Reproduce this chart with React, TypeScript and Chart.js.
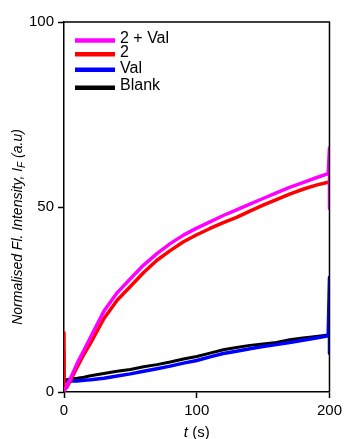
import React, { useEffect, useRef } from "react";
import { Chart, registerables } from "chart.js";

Chart.register(...registerables);

// ---- data ----
const timeSec = [0, 2, 5, 10, 15, 20, 30, 40, 50, 60, 70, 80, 90, 100, 110, 120, 130, 140, 150, 160, 170, 180, 190, 199];
const twoPlusVal = [0.3, 1.5, 3.8, 7.8, 11.3, 14.8, 21.8, 26.8, 30.6, 34.3, 37.4, 40.1, 42.4, 44.3, 46.0, 47.7, 49.2, 50.8, 52.3, 53.8, 55.3, 56.6, 57.9, 59.0];
const two = [0.5, 1.2, 3.2, 6.8, 10.2, 13.2, 19.8, 24.8, 28.5, 32.3, 35.6, 38.2, 40.6, 42.5, 44.2, 45.8, 47.2, 48.9, 50.5, 52.0, 53.5, 54.8, 55.9, 56.7];
const val = [2.8, 2.9, 3.0, 3.0, 3.2, 3.3, 3.7, 4.3, 4.9, 5.6, 6.3, 7.0, 7.8, 8.5, 9.5, 10.4, 11.0, 11.7, 12.3, 12.8, 13.4, 14.0, 14.6, 15.2];
const blank = [3.2, 3.3, 3.5, 3.7, 4.0, 4.4, 5.0, 5.6, 6.1, 6.8, 7.4, 8.1, 8.9, 9.6, 10.5, 11.4, 12.0, 12.6, 13.0, 13.4, 14.1, 14.6, 15.0, 15.4];
// injection spikes at the start / end of the record
const twoStartSpike = [16];
const blankStartSpike = [11];
const twoPlusValEndSpike = [66, 49.6];
const valEndSpike = [31, 10.4];
const spikeStartTime = 0;
const spikeEndTime = 200;

const seriesLabels = ["2 + Val", "2", "Val", "Blank"];
const seriesColors = ["#ff00ff", "#ff0000", "#0000ff", "#000000"];
const xTicks = [0, 100, 200];
const yTicks = [0, 50, 100];

const pts = (ys: number[]) => ys.map((y, i) => ({ x: timeSec[i], y }));
const spike = (t: number, ys: number[]) => ys.map((y) => ({ x: t, y }));

const FONT = "'Liberation Sans', Arial, sans-serif";

export default function App() {
  const ref = useRef<HTMLCanvasElement>(null);
  useEffect(() => {
    if (!ref.current) return;
    const datasets = [
      [...pts(twoPlusVal), ...spike(spikeEndTime, twoPlusValEndSpike)],
      [...spike(spikeStartTime, twoStartSpike), ...pts(two)],
      [...pts(val), ...spike(spikeEndTime, valEndSpike)],
      [...spike(spikeStartTime, blankStartSpike), ...pts(blank)],
    ].map((data, i) => ({
      label: seriesLabels[i],
      data,
      borderColor: seriesColors[i],
      backgroundColor: seriesColors[i],
      borderWidth: i === 3 ? 3 : 3.5,
      pointRadius: 0,
      showLine: true,
      tension: 0,
      borderJoinStyle: "round" as const,
    }));

    const decor = {
      id: "decor",
      afterDraw(chart: any) {
        const { ctx, chartArea } = chart;
        const { left, right, top, bottom } = chartArea;
        ctx.save();
        // top & right frame
        ctx.strokeStyle = "#000";
        ctx.lineWidth = 1.5;
        ctx.beginPath();
        ctx.moveTo(left, top);
        ctx.lineTo(right, top);
        ctx.lineTo(right, bottom);
        ctx.stroke();

        // legend
        const lineY = [40.5, 54.3, 69.7, 87.7];
        const textY = [43, 57, 73, 90];
        ctx.font = `16px ${FONT}`;
        ctx.textBaseline = "alphabetic";
        ctx.textAlign = "left";
        for (let i = 0; i < seriesLabels.length; i++) {
          ctx.strokeStyle = seriesColors[i];
          ctx.lineWidth = 4.5;
          ctx.beginPath();
          ctx.moveTo(left + 11, lineY[i]);
          ctx.lineTo(left + 51, lineY[i]);
          ctx.stroke();
          ctx.fillStyle = "#000";
          ctx.fillText(seriesLabels[i], left + 56, textY[i]);
        }

        // x title: t (s)
        ctx.fillStyle = "#000";
        const cx = (left + right) / 2;
        const parts: [string, string][] = [
          ["t", `italic 15px ${FONT}`],
          [" (s)", `15px ${FONT}`],
        ];
        let total = 0;
        for (const [s, f] of parts) { ctx.font = f; total += ctx.measureText(s).width; }
        let x = cx - total / 2;
        for (const [s, f] of parts) {
          ctx.font = f;
          ctx.fillText(s, x, 437);
          x += ctx.measureText(s).width;
        }

        // y title rotated
        ctx.translate(22, 227);
        ctx.rotate(-Math.PI / 2);
        const yparts: [string, string, number][] = [
          ["Normalised Fl. Intensity, ", `italic 14px ${FONT}`, 0],
          ["I", `italic 14px ${FONT}`, 0],
          ["F", `italic 10px ${FONT}`, 3],
          [" (a.u)", `italic 14px ${FONT}`, 0],
        ];
        total = 0;
        for (const [s, f] of yparts) { ctx.font = f; total += ctx.measureText(s).width; }
        x = -total / 2;
        for (const [s, f, dy] of yparts) {
          ctx.font = f;
          ctx.fillText(s, x, dy);
          x += ctx.measureText(s).width;
        }
        ctx.restore();
      },
    };

    const axisCommon = {
      type: "linear" as const,
      grid: {
        drawOnChartArea: false,
        drawTicks: true,
        tickLength: 6,
        tickColor: "#000",
        tickWidth: 1.5,
      },
      border: { color: "#000", width: 1.5 },
    };

    const chart = new Chart(ref.current, {
      type: "scatter",
      data: { datasets },
      options: {
        animation: false,
        responsive: false,
        maintainAspectRatio: false,
        layout: { padding: { top: 22, right: 16, left: 0, bottom: 0 } },
        plugins: { legend: { display: false }, tooltip: { enabled: false } },
        scales: {
          x: {
            ...axisCommon,
            min: 0,
            max: 200,
            afterBuildTicks: (s: any) => { s.ticks = xTicks.map((v) => ({ value: v })); },
            ticks: { color: "#000", font: { family: FONT, size: 15 }, padding: 4, maxRotation: 0 },
            afterFit: (s: any) => { s.height = 47; },
          },
          y: {
            ...axisCommon,
            min: 0,
            max: 100,
            afterBuildTicks: (s: any) => { s.ticks = yTicks.map((v) => ({ value: v })); },
            ticks: { color: "#000", font: { family: FONT, size: 15 }, padding: 4 },
            afterFit: (s: any) => { s.width = 64; },
          },
        },
      },
      plugins: [decor],
    });
    return () => chart.destroy();
  }, []);

  return (
    <canvas
      ref={ref}
      width={346}
      height={439}
      style={{ position: "fixed", left: 0, top: 0, width: 346, height: 439, display: "block", background: "#fff" }}
    />
  );
}
